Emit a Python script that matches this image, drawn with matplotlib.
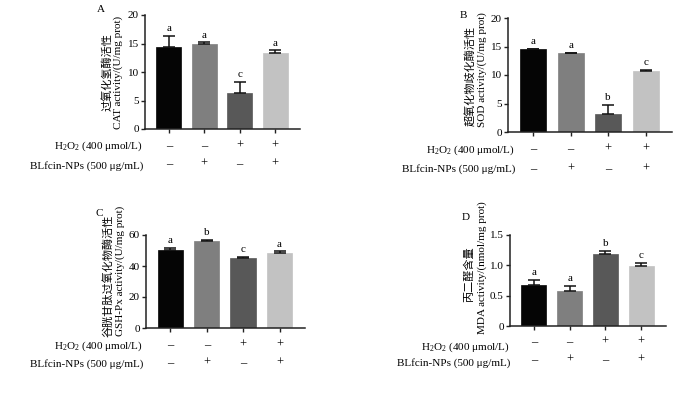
import matplotlib
matplotlib.use("Agg")
import matplotlib.pyplot as plt
import numpy as np

plt.rcParams['font.family'] = ['Liberation Serif', 'Noto Sans CJK SC', 'DejaVu Sans']
plt.rcParams['mathtext.default'] = 'regular'

groups = ['1', '2', '3', '4']
h2o2_signs = ['–', '–', '+', '+']
blf_signs = ['–', '+', '–', '+']
bar_colors = ['#050505', '#7f7f7f', '#585858', '#c2c2c2']

cat_mean = [14.4, 15.0, 6.4, 13.35]
cat_err = [1.9, 0.2, 1.8, 0.45]
cat_sig = ['a', 'a', 'c', 'a']

sod_mean = [14.5, 13.8, 3.2, 10.65]
sod_err = [0.1, 0.05, 1.5, 0.2]
sod_sig = ['a', 'a', 'b', 'c']

gsh_mean = [50.6, 56.2, 44.9, 48.7]
gsh_err = [1.3, 0.4, 0.9, 0.7]
gsh_sig = ['a', 'b', 'c', 'a']

mda_mean = [0.68, 0.58, 1.18, 0.99]
mda_err = [0.08, 0.08, 0.06, 0.055]
mda_sig = ['a', 'a', 'b', 'c']

W, H = 700, 397
fig = plt.figure(figsize=(7, 3.97), dpi=100)

def fx(px):
    return px / W

def fy(py):
    return 1 - py / H

panels = [
    dict(letter='A', box=(145, 300, 15, 129), mean=cat_mean, err=cat_err, sig=cat_sig,
         ylim=20, yticks=[0, 5, 10, 15, 20], ytl=['0', '5', '10', '15', '20'],
         cn='过氧化氢酶活性', en='CAT activity/(U/mg prot)',
         lpos=(101, 10), cnx=107, enx=118, cny=72, eny=72,
         lx=143, ly=(146, 166), sy=(146, 164)),
    dict(letter='B', box=(508, 672, 18, 132), mean=sod_mean, err=sod_err, sig=sod_sig,
         ylim=20, yticks=[0, 5, 10, 15, 20], ytl=['0', '5', '10', '15', '20'],
         cn='超氧化物歧化酶活性', en='SOD activity/(U/mg prot)',
         lpos=(463, 15), cnx=471, enx=482, cny=76, eny=70,
         lx=515, ly=(150, 169), sy=(149, 169)),
    dict(letter='C', box=(146, 305, 235, 328), mean=gsh_mean, err=gsh_err, sig=gsh_sig,
         ylim=60, yticks=[0, 20, 40, 60], ytl=['0', '20', '40', '60'],
         cn='谷胱甘肽过氧化物酶活性', en='GSH-Px activity/(U/mg prot)',
         lpos=(99, 213), cnx=108, enx=120, cny=276, eny=271,
         lx=143, ly=(346, 364), sy=(345, 363)),
    dict(letter='D', box=(510, 666, 235, 326), mean=mda_mean, err=mda_err, sig=mda_sig,
         ylim=1.5, yticks=[0, 0.5, 1.0, 1.5], ytl=['0', '0.5', '1.0', '1.5'],
         cn='丙二醛含量', en='MDA activity/(nmol/mg prot)',
         lpos=(466, 218), cnx=469, enx=482, cny=274, eny=268,
         lx=510, ly=(347, 363), sy=(342, 360)),
]

fs = 8
spine_c = '#222222'
x = np.arange(len(groups))

for p in panels:
    l, r, t, b = p['box']
    ax = fig.add_axes([fx(l), fy(b), (r - l) / W, (b - t) / H])
    errs = np.array(p['err'])
    ax.bar(x, p['mean'], width=0.7, color=bar_colors, edgecolor=bar_colors, linewidth=0.5,
           yerr=[np.zeros_like(errs), errs], capsize=4,
           error_kw=dict(ecolor='#111111', elinewidth=1.1, capthick=1.1), zorder=2)
    for xi, m, e, s in zip(x, p['mean'], p['err'], p['sig']):
        ax.annotate(s, (xi, m + e), xytext=(0, 2), textcoords='offset points',
                    ha='center', va='bottom', fontsize=fs)
    ax.set_xlim(-0.67, 3.7)
    ax.set_ylim(0, p['ylim'])
    ax.set_yticks(p['yticks'])
    ax.set_yticklabels(p['ytl'], fontsize=fs)
    ax.set_xticks(x)
    ax.set_xticklabels([])
    for side in ['top', 'right']:
        ax.spines[side].set_visible(False)
    for side in ['left', 'bottom']:
        ax.spines[side].set_linewidth(1.1)
        ax.spines[side].set_color(spine_c)
    ax.tick_params(axis='both', direction='out', length=3, width=1.0, color=spine_c, pad=1.5)
    fig.text(fx(p['cnx']), fy(p['cny']), p['cn'], rotation=90, ha='center', va='center',
             fontsize=fs, family=['Noto Sans CJK SC', 'DejaVu Sans'])
    fig.text(fx(p['enx']), fy(p['eny']), p['en'], rotation=90, ha='center', va='center', fontsize=fs)
    fig.text(fx(p['lpos'][0]), fy(p['lpos'][1]), p['letter'], ha='center', va='center', fontsize=fs)
    fig.text(fx(p['lx']), fy(p['ly'][0]), r'H$_2$O$_2$ (400 μmol/L)', ha='right', va='center', fontsize=fs)
    fig.text(fx(p['lx']), fy(p['ly'][1]), 'BLfcin-NPs (500 μg/mL)', ha='right', va='center', fontsize=fs)
    for row, signs in enumerate([h2o2_signs, blf_signs]):
        ya = (b - p['sy'][row]) / (b - t)
        for xi, s in zip(x, signs):
            ax.text(xi, ya, s, transform=ax.get_xaxis_transform(), ha='center', va='center',
                    fontsize=9, clip_on=False)

fig.savefig('out.png', dpi=100)
